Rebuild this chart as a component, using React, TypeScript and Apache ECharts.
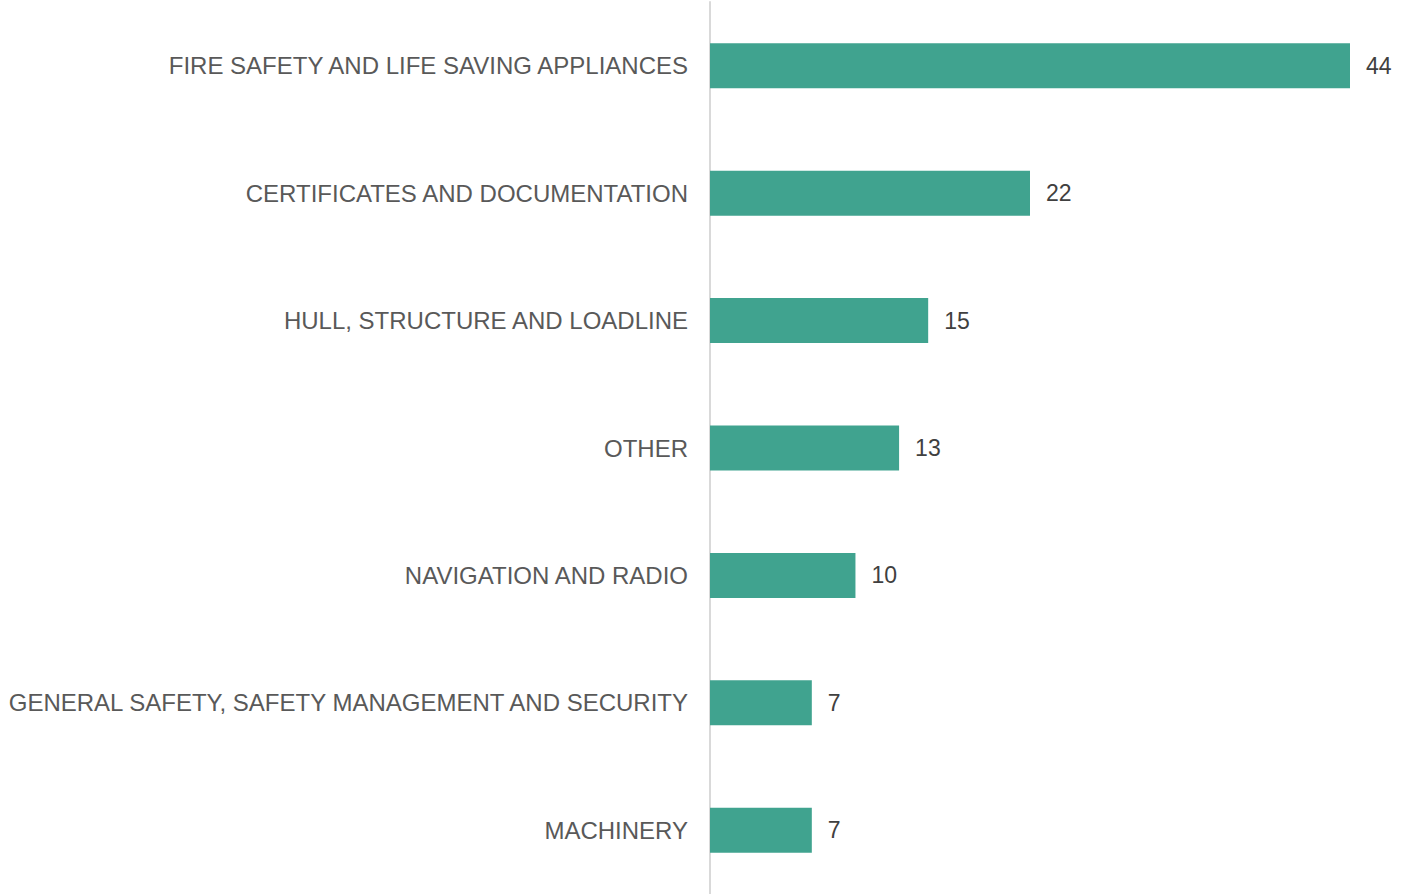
import React, { useEffect, useRef } from "react";
import * as echarts from "echarts";

const categories = [
  "FIRE SAFETY AND LIFE SAVING APPLIANCES",
  "CERTIFICATES AND DOCUMENTATION",
  "HULL, STRUCTURE AND LOADLINE",
  "OTHER",
  "NAVIGATION AND RADIO",
  "GENERAL SAFETY, SAFETY MANAGEMENT AND SECURITY",
  "MACHINERY",
];
const values = [44, 22, 15, 13, 10, 7, 7];

export default function App() {
  const ref = useRef<HTMLDivElement>(null);
  useEffect(() => {
    const chart = echarts.init(ref.current!, null, { renderer: "svg" });
    chart.setOption({
      animation: false,
      grid: { left: 710, right: 53, top: 2, bottom: 0, containLabel: false },
      xAxis: {
        type: "value",
        min: 0,
        max: 44,
        show: false,
      },
      yAxis: {
        type: "category",
        data: categories,
        inverse: true,
        axisLine: { show: true, lineStyle: { color: "#d9d9d9", width: 2 } },
        axisTick: { show: false },
        axisLabel: {
          color: "#595959",
          fontSize: 24,
          fontFamily: "Liberation Sans, Arial, sans-serif",
          margin: 22,
        },
      },
      series: [
        {
          type: "bar",
          data: values,
          barWidth: 45,
          itemStyle: { color: "#40A38F" },
          label: {
            show: true,
            position: "right",
            distance: 16,
            color: "#404040",
            fontSize: 23,
            fontFamily: "Liberation Sans, Arial, sans-serif",
          },
        },
      ],
    });
    return () => chart.dispose();
  }, []);
  return (
    <div
      ref={ref}
      style={{ width: 1403, height: 894, position: "absolute", left: 0, top: 0 }}
    />
  );
}
